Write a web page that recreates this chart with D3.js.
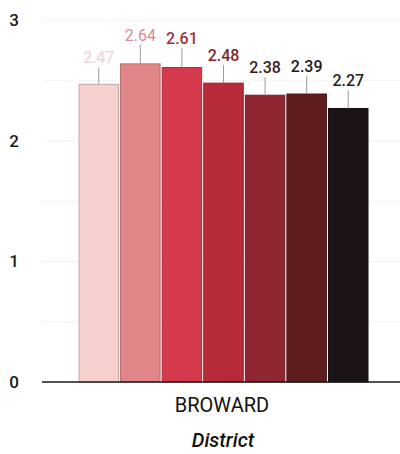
<!DOCTYPE html>
<html><head><meta charset="utf-8">
<script src="https://cdn.jsdelivr.net/npm/d3@7/dist/d3.min.js"></script>
<style>html,body{margin:0;padding:0;background:#fff;}svg{display:block;font-family:Roboto,"Noto Sans",sans-serif;}</style>
</head><body>
<svg id="c" width="400" height="454"></svg>
<script>
const category = "BROWARD";
const axisTitle = "District";
const seriesNames = ["s1","s2","s3","s4","s5","s6","s7"];
const values = [2.47, 2.64, 2.61, 2.48, 2.38, 2.39, 2.27];
const errUpper = [0.14, 0.16, 0.16, 0.15, 0.15, 0.15, 0.15];
const barColors = ["#f6d0cd","#e08689","#d43a4b","#b62a3a","#8f2531","#5e1c1f","#1b1315"];
const labelColors = ["#ead2d1","#d98a8d","#9c3440","#7c2630","#3b1d20","#221a1b","#1e1e1e"];
const labelWeights = [400, 400, 500, 500, 500, 500, 500];
const yTicks = [0, 1, 2, 3];

const svg = d3.select("#c");
const y = d3.scaleLinear().domain([0, 3]).range([382, 20.5]);
const x = d3.scaleBand().domain(seriesNames).range([79, 368]).paddingInner(0.05).paddingOuter(0);

// faint gridlines
svg.append("g").selectAll("line").data(d3.range(0.5, 3.01, 0.5)).join("line")
  .attr("x1", 42).attr("x2", 400).attr("y1", d => y(d)).attr("y2", d => y(d))
  .attr("stroke", "#f4f2f2").attr("stroke-width", 1);

// y tick labels
svg.append("g").selectAll("text").data(yTicks).join("text")
  .attr("x", 14).attr("y", d => y(d)).attr("dy", "0.35em")
  .attr("text-anchor", "middle").attr("font-size", 17).attr("font-weight", 500)
  .attr("fill", "#1a1a1a").text(d => d);

// bars
svg.append("g").selectAll("rect").data(values).join("rect")
  .attr("x", (d, i) => x(seriesNames[i]))
  .attr("y", d => y(d))
  .attr("width", x.bandwidth())
  .attr("height", d => y(0) - y(d))
  .attr("fill", (d, i) => barColors[i])
  .attr("stroke", (d, i) => d3.color(barColors[i]).darker(0.6))
  .attr("stroke-width", 1);

// error bars (upper)
svg.append("g").selectAll("line").data(values).join("line")
  .attr("x1", (d, i) => x(seriesNames[i]) + x.bandwidth() / 2)
  .attr("x2", (d, i) => x(seriesNames[i]) + x.bandwidth() / 2)
  .attr("y1", d => y(d))
  .attr("y2", (d, i) => y(d + errUpper[i]))
  .attr("stroke", "#9a9a9a").attr("stroke-width", 1);

// value labels
svg.append("g").selectAll("text").data(values).join("text")
  .attr("x", (d, i) => x(seriesNames[i]) + x.bandwidth() / 2)
  .attr("y", (d, i) => y(d + errUpper[i]) - 4)
  .attr("text-anchor", "middle").attr("font-size", 16)
  .attr("font-weight", (d, i) => labelWeights[i])
  .attr("fill", (d, i) => labelColors[i]).text(d => d.toFixed(2));

// baseline axis
svg.append("line").attr("x1", 42).attr("x2", 400).attr("y1", y(0)).attr("y2", y(0))
  .attr("stroke", "#1a1a1a").attr("stroke-width", 1.5);

// category label
svg.append("text").attr("x", 222).attr("y", 412).attr("text-anchor", "middle")
  .attr("font-size", 20).attr("fill", "#111").text(category);
svg.append("text").attr("x", 223).attr("y", 447).attr("text-anchor", "middle")
  .attr("font-size", 20).attr("font-style", "italic").attr("font-weight", 500)
  .attr("fill", "#111").text(axisTitle);
</script>
</body></html>
